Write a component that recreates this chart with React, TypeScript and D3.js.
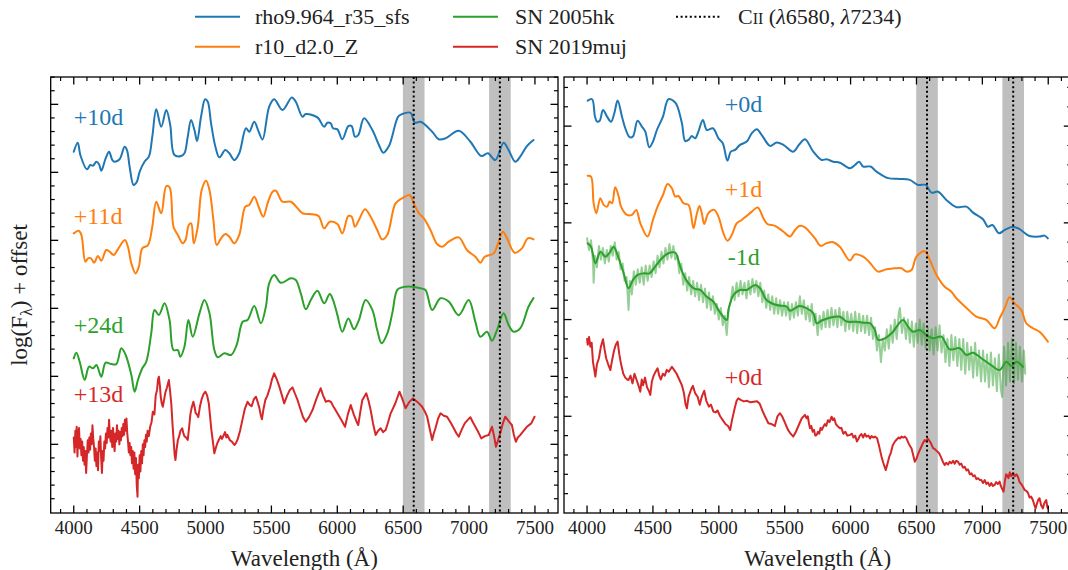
import React from 'react';
import * as d3 from 'd3';

type Pt = [number, number];

// ---------------- DATA (wavelength in Å, log flux + offset) ----------------
// Left panel: models vs. observations
const leftBlue: Pt[] = [[4000,2.151],[4030,2.218],[4050,2.127],[4100,2.022],[4126,2.054],[4146,2.049],[4172,2.078],[4192,2.059],[4209,2.012],[4242,2.103],[4268,2.151],[4293,2.090],[4310,2.078],[4348,2.096],[4386,2.188],[4404,2.164],[4424,2.041],[4454,1.907],[4479,1.931],[4500,2.004],[4537,2.078],[4570,2.115],[4596,2.262],[4626,2.463],[4664,2.335],[4702,2.458],[4732,2.348],[4764,2.127],[4815,2.120],[4840,2.140],[4865,2.262],[4890,2.385],[4916,2.311],[4936,2.230],[4966,2.409],[4997,2.537],[5017,2.519],[5042,2.360],[5075,2.188],[5105,2.110],[5150,2.164],[5181,2.140],[5219,2.090],[5256,2.140],[5307,2.324],[5332,2.299],[5370,2.372],[5403,2.299],[5433,2.241],[5483,2.482],[5521,2.537],[5584,2.458],[5655,2.551],[5685,2.519],[5736,2.409],[5761,2.429],[5849,2.404],[5900,2.335],[5925,2.365],[5950,2.360],[5968,2.324],[6001,2.316],[6038,2.243],[6084,2.340],[6109,2.340],[6134,2.262],[6159,2.274],[6203,2.397],[6266,2.311],[6316,2.201],[6349,2.144],[6392,2.193],[6462,2.409],[6492,2.429],[6556,2.438],[6589,2.365],[6632,2.372],[6720,2.299],[6770,2.243],[6821,2.250],[6922,2.306],[7010,2.225],[7093,2.120],[7143,2.140],[7199,2.090],[7262,2.218],[7300,2.164],[7351,2.078],[7388,2.115],[7439,2.193],[7489,2.238]];

const leftOrange: Pt[] = [[4000,1.551],[4038,1.571],[4058,1.539],[4088,1.343],[4108,1.368],[4131,1.368],[4154,1.335],[4184,1.385],[4209,1.350],[4247,1.429],[4273,1.416],[4303,1.392],[4336,1.436],[4388,1.502],[4411,1.453],[4437,1.331],[4469,1.257],[4494,1.306],[4520,1.441],[4563,1.465],[4596,1.600],[4626,1.784],[4664,1.699],[4702,1.899],[4727,1.890],[4757,1.600],[4790,1.539],[4827,1.478],[4848,1.502],[4873,1.613],[4891,1.625],[4911,1.478],[4941,1.600],[4971,1.870],[5004,1.938],[5030,1.870],[5060,1.649],[5085,1.465],[5118,1.515],[5150,1.546],[5181,1.526],[5219,1.478],[5256,1.539],[5302,1.747],[5332,1.760],[5370,1.821],[5403,1.747],[5438,1.673],[5471,1.772],[5509,1.857],[5534,1.865],[5584,1.784],[5648,1.784],[5736,1.699],[5786,1.693],[5857,1.679],[5900,1.588],[5943,1.637],[6001,1.620],[6038,1.551],[6084,1.679],[6109,1.674],[6134,1.600],[6164,1.649],[6210,1.728],[6253,1.674],[6303,1.576],[6341,1.507],[6379,1.539],[6442,1.772],[6492,1.809],[6548,1.833],[6581,1.772],[6619,1.699],[6657,1.662],[6707,1.576],[6757,1.473],[6796,1.453],[6846,1.490],[6922,1.522],[6984,1.429],[7048,1.379],[7086,1.335],[7119,1.379],[7187,1.404],[7220,1.478],[7257,1.563],[7288,1.515],[7346,1.409],[7401,1.441],[7446,1.515],[7489,1.507]];

const leftGreen: Pt[] = [[4000,0.632],[4020,0.674],[4045,0.607],[4083,0.473],[4116,0.571],[4146,0.559],[4172,0.583],[4209,0.497],[4242,0.600],[4285,0.590],[4323,0.590],[4361,0.706],[4394,0.657],[4437,0.510],[4462,0.387],[4487,0.473],[4520,0.559],[4550,0.607],[4588,0.816],[4613,0.988],[4646,0.951],[4689,1.037],[4727,0.914],[4757,0.693],[4790,0.693],[4808,0.644],[4840,0.718],[4870,0.914],[4903,0.791],[4954,0.963],[4992,1.061],[5030,0.963],[5067,0.693],[5092,0.640],[5143,0.669],[5194,0.657],[5236,0.730],[5282,0.901],[5319,0.914],[5370,1.017],[5420,0.890],[5458,1.012],[5483,1.184],[5521,1.245],[5572,1.188],[5648,1.221],[5685,1.208],[5723,1.110],[5761,0.993],[5799,1.061],[5849,1.129],[5900,1.037],[5943,1.105],[5968,1.061],[6001,0.950],[6038,0.828],[6084,0.926],[6127,0.846],[6164,0.914],[6215,1.061],[6266,0.988],[6303,0.840],[6336,0.743],[6379,0.814],[6417,0.963],[6455,1.135],[6492,1.154],[6568,1.159],[6632,1.147],[6669,1.135],[6720,0.988],[6783,1.074],[6846,1.049],[6922,0.950],[6997,1.061],[7048,0.900],[7086,0.791],[7136,0.828],[7174,0.762],[7212,0.840],[7262,0.963],[7300,0.877],[7338,0.828],[7388,0.853],[7451,1.012],[7489,1.075]];

const leftRed: Pt[] = [[4000,0.05],[4006,-0.06],[4012,0.10],[4018,-0.02],[4022,0.13],[4028,-0.09],[4034,0.08],[4040,0.12],[4046,-0.03],[4052,0.04],[4058,-0.08],[4064,0.02],[4070,-0.12],[4076,-0.02],[4082,-0.15],[4088,-0.05],[4094,-0.21],[4100,-0.08],[4106,0.03],[4112,-0.06],[4118,0.05],[4124,-0.04],[4130,0.08],[4136,0.00],[4142,0.14],[4148,0.04],[4154,-0.02],[4160,-0.12],[4166,-0.03],[4172,-0.16],[4178,-0.06],[4184,-0.19],[4190,0.02],[4196,-0.05],[4202,0.06],[4208,-0.10],[4214,-0.21],[4220,-0.05],[4226,-0.12],[4232,0.02],[4238,-0.03],[4244,0.08],[4250,0.01],[4256,0.12],[4262,0.05],[4268,0.18],[4274,0.07],[4280,0.02],[4286,0.10],[4292,-0.02],[4298,0.12],[4304,0.03],[4310,-0.05],[4316,0.08],[4322,0.02],[4328,0.14],[4334,0.04],[4340,0.10],[4346,0.00],[4352,0.09],[4358,0.03],[4364,0.12],[4370,0.06],[4376,0.15],[4382,0.07],[4388,0.18],[4394,0.10],[4400,0.19],[4406,0.08],[4412,0.02],[4418,-0.06],[4424,0.01],[4430,-0.08],[4436,-0.02],[4442,-0.14],[4448,-0.05],[4454,-0.18],[4460,-0.06],[4466,-0.22],[4472,-0.10],[4478,-0.30],[4484,-0.385],[4488,-0.15],[4494,-0.25],[4500,-0.08],[4506,-0.20],[4512,-0.05],[4518,-0.14],[4524,0.00],[4530,-0.08],[4536,0.03],[4542,-0.02],[4548,0.07],[4554,0.02],[4560,0.10],[4570,0.06],[4580,0.13],[4590,0.16],[4600,0.24],[4612,0.22],[4622,0.36],[4632,0.40],[4640,0.48],[4646,0.497],[4654,0.43],[4660,0.35],[4668,0.30],[4676,0.276],[4686,0.33],[4695,0.38],[4708,0.42],[4716,0.45],[4722,0.473],[4730,0.40],[4740,0.30],[4750,0.14],[4760,0.00],[4766,-0.08],[4772,-0.115],[4780,-0.04],[4790,0.03],[4800,0.06],[4810,0.10],[4823,0.118],[4832,0.08],[4840,0.06],[4852,0.05],[4865,0.032],[4875,0.12],[4885,0.22],[4895,0.27],[4908,0.313],[4916,0.28],[4925,0.23],[4935,0.22],[4945,0.20],[4958,0.28],[4970,0.33],[4985,0.37],[4999,0.387],[5012,0.36],[5025,0.300],[5035,0.20],[5045,0.10],[5056,0.02],[5067,-0.066],[5080,-0.02],[5090,0.01],[5100,0.03],[5115,0.06],[5125,0.04],[5135,0.061],[5148,0.09],[5158,0.05],[5165,0.07],[5175,0.05],[5185,0.03],[5200,0.02],[5219,-0.005],[5232,0.01],[5245,0.04],[5262,0.10],[5280,0.18],[5298,0.26],[5310,0.29],[5319,0.313],[5335,0.29],[5350,0.28],[5366,0.33],[5383,0.350],[5396,0.31],[5408,0.27],[5418,0.22],[5428,0.184],[5440,0.26],[5454,0.326],[5470,0.36],[5490,0.42],[5505,0.48],[5521,0.522],[5540,0.48],[5560,0.424],[5580,0.36],[5597,0.301],[5620,0.36],[5640,0.40],[5660,0.419],[5680,0.37],[5698,0.326],[5720,0.26],[5740,0.20],[5761,0.166],[5785,0.20],[5812,0.252],[5840,0.33],[5860,0.38],[5874,0.412],[5892,0.36],[5913,0.313],[5930,0.32],[5951,0.313],[5975,0.27],[6001,0.228],[6030,0.18],[6059,0.129],[6080,0.22],[6102,0.289],[6115,0.25],[6127,0.215],[6145,0.17],[6159,0.142],[6175,0.24],[6190,0.326],[6205,0.35],[6220,0.375],[6237,0.32],[6253,0.252],[6272,0.15],[6291,0.068],[6310,0.10],[6329,0.118],[6348,0.09],[6367,0.105],[6385,0.16],[6405,0.228],[6440,0.30],[6472,0.387],[6495,0.33],[6518,0.265],[6545,0.31],[6574,0.338],[6610,0.31],[6644,0.276],[6665,0.24],[6682,0.203],[6700,0.12],[6720,0.032],[6732,0.08],[6745,0.118],[6765,0.19],[6783,0.228],[6808,0.21],[6833,0.203],[6860,0.16],[6884,0.118],[6905,0.08],[6922,0.056],[6945,0.11],[6967,0.154],[6990,0.18],[7010,0.199],[7030,0.16],[7048,0.129],[7070,0.09],[7093,0.044],[7120,0.06],[7149,0.068],[7162,0.10],[7174,0.129],[7190,0.06],[7204,-0.018],[7220,0.03],[7237,0.081],[7255,0.15],[7275,0.203],[7300,0.17],[7325,0.142],[7340,0.07],[7355,0.019],[7370,0.05],[7388,0.068],[7415,0.10],[7439,0.129],[7472,0.154],[7497,0.203]];

// Right panel
const rightBlue: Pt[] = [[4005,2.132],[4038,2.139],[4060,2.05],[4076,2.023],[4096,2.028],[4121,2.084],[4152,2.049],[4182,2.023],[4207,2.067],[4232,2.132],[4265,2.049],[4290,1.989],[4323,1.943],[4348,1.946],[4383,2.028],[4417,1.997],[4442,1.972],[4472,1.891],[4500,1.920],[4530,1.980],[4576,2.049],[4618,2.139],[4669,2.122],[4686,2.101],[4720,2.015],[4745,1.923],[4770,1.929],[4795,1.949],[4820,1.937],[4845,1.972],[4879,2.032],[4909,1.980],[4955,1.989],[4997,1.937],[5030,1.912],[5065,1.822],[5091,1.868],[5123,1.877],[5161,1.903],[5212,1.920],[5250,1.963],[5288,1.984],[5326,1.954],[5389,1.898],[5439,1.915],[5490,1.903],[5565,1.868],[5610,1.905],[5654,1.932],[5717,1.868],[5780,1.825],[5818,1.829],[5868,1.816],[5919,1.811],[5995,1.782],[6033,1.799],[6065,1.816],[6096,1.791],[6151,1.791],[6197,1.765],[6285,1.731],[6373,1.727],[6449,1.722],[6512,1.696],[6570,1.696],[6614,1.656],[6664,1.661],[6727,1.618],[6803,1.581],[6879,1.584],[6929,1.553],[7005,1.519],[7042,1.480],[7076,1.489],[7126,1.446],[7169,1.463],[7232,1.480],[7283,1.467],[7358,1.432],[7434,1.429],[7472,1.434],[7497,1.420]];

const rightOrange: Pt[] = [[4005,1.743],[4030,1.739],[4050,1.601],[4070,1.550],[4101,1.627],[4126,1.593],[4152,1.584],[4171,1.610],[4189,1.601],[4214,1.684],[4240,1.636],[4258,1.584],[4303,1.541],[4341,1.541],[4373,1.567],[4404,1.498],[4459,1.429],[4500,1.515],[4535,1.584],[4576,1.644],[4611,1.701],[4644,1.679],[4669,1.636],[4694,1.639],[4732,1.601],[4770,1.593],[4808,1.472],[4828,1.532],[4853,1.587],[4871,1.550],[4889,1.494],[4921,1.550],[4965,1.567],[4997,1.532],[5035,1.446],[5065,1.408],[5098,1.437],[5136,1.498],[5174,1.515],[5212,1.536],[5250,1.558],[5295,1.579],[5338,1.524],[5368,1.494],[5427,1.484],[5489,1.455],[5540,1.429],[5578,1.463],[5611,1.484],[5654,1.477],[5686,1.455],[5730,1.420],[5773,1.381],[5818,1.395],[5868,1.400],[5920,1.375],[5995,1.305],[6033,1.337],[6096,1.325],[6146,1.294],[6209,1.248],[6273,1.260],[6336,1.265],[6386,1.265],[6424,1.248],[6462,1.256],[6500,1.325],[6563,1.353],[6601,1.308],[6652,1.231],[6714,1.170],[6765,1.144],[6803,1.110],[6874,1.064],[6955,1.015],[7030,0.998],[7093,0.955],[7131,1.007],[7169,1.058],[7207,1.115],[7245,1.084],[7295,1.050],[7333,0.981],[7383,0.955],[7434,0.937],[7497,0.886]];

const rightGreenSmooth: Pt[] = [[4005,1.394],[4030,1.377],[4063,1.291],[4101,1.351],[4139,1.325],[4171,1.346],[4202,1.377],[4240,1.317],[4278,1.239],[4315,1.162],[4348,1.205],[4383,1.231],[4429,1.239],[4474,1.239],[4517,1.274],[4568,1.317],[4618,1.343],[4669,1.346],[4707,1.274],[4752,1.205],[4808,1.162],[4859,1.153],[4909,1.118],[4959,1.093],[4997,1.050],[5043,1.007],[5061,0.998],[5073,1.050],[5111,1.127],[5161,1.153],[5212,1.153],[5275,1.179],[5313,1.162],[5364,1.100],[5439,1.075],[5515,1.067],[5540,1.046],[5611,1.070],[5667,1.058],[5717,1.033],[5742,0.981],[5780,0.995],[5830,1.007],[5919,1.015],[5970,0.990],[6045,0.989],[6096,0.984],[6146,0.981],[6184,0.946],[6209,0.895],[6260,0.903],[6311,0.929],[6398,0.998],[6436,0.963],[6474,0.937],[6525,0.946],[6576,0.920],[6626,0.903],[6689,0.912],[6752,0.846],[6828,0.852],[6879,0.817],[6929,0.829],[6992,0.800],[7055,0.770],[7131,0.739],[7182,0.782],[7220,0.760],[7258,0.782],[7308,0.756]];

const rightGreenRaw: Pt[] = [[4000,1.42],[4015,1.36],[4030,1.41],[4045,1.30],[4050,1.19],[4060,1.33],[4075,1.27],[4090,1.38],[4105,1.31],[4120,1.37],[4135,1.29],[4150,1.36],[4165,1.30],[4180,1.38],[4195,1.33],[4210,1.40],[4225,1.31],[4240,1.35],[4255,1.26],[4270,1.29],[4285,1.20],[4300,1.22],[4315,1.05],[4325,1.20],[4340,1.13],[4355,1.25],[4370,1.18],[4385,1.26],[4400,1.19],[4415,1.27],[4430,1.18],[4445,1.28],[4460,1.20],[4475,1.28],[4490,1.22],[4505,1.30],[4520,1.24],[4535,1.33],[4550,1.27],[4565,1.35],[4580,1.29],[4595,1.37],[4610,1.31],[4625,1.39],[4640,1.32],[4655,1.38],[4670,1.31],[4685,1.33],[4700,1.24],[4715,1.29],[4730,1.18],[4745,1.24],[4760,1.15],[4775,1.22],[4790,1.13],[4805,1.20],[4820,1.12],[4835,1.19],[4850,1.10],[4865,1.18],[4880,1.09],[4895,1.16],[4910,1.06],[4925,1.14],[4940,1.05],[4955,1.12],[4970,1.03],[4985,1.08],[5000,1.00],[5015,1.06],[5030,0.97],[5045,1.02],[5060,0.92],[5075,1.06],[5090,1.09],[5105,1.17],[5120,1.10],[5135,1.19],[5150,1.12],[5165,1.20],[5180,1.13],[5195,1.19],[5210,1.11],[5225,1.20],[5240,1.13],[5255,1.21],[5270,1.14],[5285,1.20],[5300,1.12],[5315,1.19],[5330,1.09],[5345,1.15],[5360,1.06],[5375,1.13],[5390,1.05],[5405,1.12],[5420,1.03],[5435,1.11],[5450,1.03],[5465,1.10],[5480,1.02],[5495,1.09],[5510,1.02],[5525,1.09],[5540,1.00],[5555,1.08],[5570,1.01],[5585,1.09],[5600,1.02],[5615,1.12],[5630,1.03],[5645,1.10],[5660,1.00],[5675,1.07],[5690,0.99],[5705,1.08],[5720,0.97],[5735,1.03],[5750,0.92],[5765,1.02],[5780,0.95],[5795,1.04],[5810,0.96],[5825,1.05],[5840,0.96],[5855,1.06],[5870,0.97],[5885,1.05],[5900,0.96],[5915,1.06],[5930,0.97],[5945,1.04],[5960,0.94],[5975,1.04],[5990,0.95],[6005,1.03],[6020,0.94],[6035,1.04],[6050,0.93],[6065,1.03],[6080,0.94],[6095,1.02],[6110,0.93],[6125,1.02],[6140,0.92],[6155,1.01],[6170,0.90],[6185,0.96],[6200,0.84],[6215,0.92],[6230,0.78],[6245,0.90],[6260,0.84],[6275,0.95],[6290,0.85],[6305,0.97],[6320,0.88],[6335,1.00],[6350,0.90],[6365,1.03],[6374,1.06],[6390,0.93],[6405,1.01],[6420,0.90],[6435,1.00],[6450,0.88],[6465,0.99],[6480,0.86],[6495,0.98],[6510,0.88],[6525,1.00],[6540,0.87],[6555,0.98],[6570,0.85],[6585,0.96],[6600,0.84],[6615,0.95],[6630,0.82],[6645,0.96],[6660,0.84],[6675,0.97],[6690,0.83],[6705,0.92],[6720,0.78],[6735,0.90],[6750,0.76],[6765,0.92],[6780,0.79],[6795,0.91],[6810,0.76],[6825,0.90],[6840,0.74],[6855,0.90],[6870,0.72],[6885,0.88],[6900,0.74],[6915,0.86],[6930,0.70],[6945,0.88],[6960,0.71],[6975,0.84],[6990,0.68],[7005,0.84],[7020,0.68],[7035,0.82],[7050,0.65],[7065,0.83],[7080,0.66],[7095,0.80],[7110,0.63],[7125,0.82],[7140,0.64],[7150,0.60],[7165,0.86],[7180,0.66],[7195,0.88],[7210,0.68],[7225,0.90],[7240,0.67],[7255,0.88],[7270,0.69],[7285,0.86],[7300,0.68],[7315,0.84],[7325,0.72]];

const rightRed: Pt[] = [[4000,0.90],[4005,0.870],[4015,0.91],[4025,0.86],[4035,0.88],[4045,0.78],[4055,0.74],[4063,0.705],[4075,0.77],[4090,0.80],[4105,0.86],[4121,0.898],[4132,0.85],[4145,0.80],[4160,0.77],[4177,0.739],[4190,0.79],[4205,0.84],[4218,0.87],[4232,0.886],[4245,0.82],[4258,0.77],[4275,0.72],[4290,0.70],[4305,0.69],[4315,0.688],[4330,0.71],[4345,0.67],[4360,0.72],[4375,0.69],[4390,0.66],[4404,0.627],[4415,0.69],[4425,0.66],[4440,0.70],[4455,0.65],[4470,0.63],[4480,0.610],[4492,0.68],[4505,0.71],[4520,0.73],[4535,0.748],[4548,0.71],[4560,0.69],[4575,0.72],[4590,0.71],[4605,0.74],[4620,0.73],[4644,0.756],[4660,0.74],[4680,0.72],[4700,0.69],[4720,0.66],[4735,0.62],[4748,0.56],[4758,0.541],[4770,0.60],[4790,0.64],[4803,0.657],[4820,0.62],[4840,0.60],[4855,0.56],[4870,0.60],[4889,0.632],[4905,0.58],[4925,0.55],[4940,0.56],[4959,0.524],[4975,0.52],[4990,0.53],[5010,0.50],[5030,0.48],[5050,0.46],[5070,0.45],[5086,0.429],[5100,0.48],[5120,0.54],[5135,0.58],[5148,0.593],[5165,0.585],[5190,0.577],[5215,0.580],[5240,0.572],[5265,0.575],[5290,0.578],[5310,0.565],[5330,0.53],[5350,0.50],[5376,0.464],[5400,0.46],[5425,0.45],[5445,0.50],[5464,0.516],[5480,0.50],[5500,0.47],[5525,0.43],[5545,0.41],[5565,0.395],[5585,0.42],[5610,0.46],[5630,0.49],[5654,0.507],[5665,0.49],[5675,0.50],[5685,0.46],[5692,0.438],[5702,0.45],[5712,0.42],[5722,0.43],[5732,0.40],[5742,0.403],[5752,0.42],[5762,0.41],[5772,0.44],[5782,0.43],[5793,0.446],[5805,0.46],[5815,0.45],[5828,0.48],[5840,0.47],[5856,0.498],[5866,0.48],[5876,0.49],[5888,0.46],[5900,0.45],[5919,0.438],[5930,0.44],[5945,0.41],[5960,0.42],[5975,0.40],[5995,0.403],[6010,0.41],[6022,0.39],[6035,0.40],[6048,0.37],[6058,0.381],[6070,0.40],[6083,0.408],[6095,0.39],[6108,0.41],[6120,0.395],[6135,0.40],[6148,0.385],[6159,0.398],[6172,0.39],[6185,0.395],[6201,0.386],[6215,0.35],[6225,0.32],[6235,0.291],[6248,0.26],[6258,0.24],[6267,0.222],[6278,0.25],[6293,0.290],[6305,0.31],[6320,0.35],[6336,0.369],[6350,0.38],[6365,0.39],[6375,0.385],[6386,0.395],[6400,0.39],[6412,0.395],[6424,0.386],[6440,0.36],[6452,0.345],[6462,0.335],[6475,0.30],[6487,0.265],[6500,0.28],[6510,0.30],[6520,0.317],[6535,0.34],[6548,0.36],[6563,0.377],[6575,0.37],[6585,0.385],[6595,0.377],[6610,0.36],[6626,0.335],[6640,0.33],[6655,0.32],[6672,0.309],[6685,0.29],[6700,0.265],[6714,0.248],[6726,0.26],[6740,0.25],[6752,0.265],[6765,0.257],[6778,0.27],[6790,0.255],[6802,0.27],[6815,0.265],[6828,0.25],[6840,0.255],[6853,0.235],[6866,0.239],[6880,0.22],[6892,0.225],[6905,0.20],[6917,0.205],[6930,0.19],[6942,0.195],[6955,0.175],[6967,0.18],[6980,0.171],[6992,0.17],[7005,0.155],[7018,0.17],[7030,0.15],[7043,0.157],[7055,0.14],[7068,0.155],[7080,0.14],[7093,0.145],[7105,0.16],[7118,0.15],[7131,0.162],[7140,0.14],[7150,0.125],[7161,0.110],[7170,0.16],[7180,0.20],[7187,0.196],[7198,0.18],[7208,0.21],[7220,0.19],[7232,0.205],[7245,0.19],[7258,0.20],[7270,0.188],[7282,0.16],[7295,0.15],[7308,0.136],[7320,0.12],[7333,0.115],[7346,0.105],[7358,0.08],[7370,0.085],[7383,0.067],[7393,0.045],[7404,0.024],[7415,0.05],[7425,0.07],[7434,0.076],[7446,0.04],[7459,0.024],[7470,0.05],[7485,0.067],[7492,0.035],[7497,0.024]];

// C II reference lines (Å) and shaded half-width (Å)
const ciiLines = [6580, 7234];
const ciiHalfWidth = 82;

// Axis ticks
const xMajorTicks = [4000, 4500, 5000, 5500, 6000, 6500, 7000, 7500];
const xMinorTicks = d3.range(3900, 7601, 100);
const leftYMajor = [0, 0.5, 1.0, 1.5, 2.0, 2.5];
const leftYMinor = d3.range(-0.4, 2.71, 0.1);
const rightYMajor = [0.5, 1.0, 1.5, 2.0];
const rightYMinor = d3.range(0.1, 2.21, 0.1);

// Legend entries
const legendNames = ['rho9.964_r35_sfs', 'r10_d2.0_Z', 'SN 2005hk', 'SN 2019muj'];

// Phase labels
const leftLabels = [
  { text: '+10d', color: '#1f77b4', wave: 4000, y: 2.348 },
  { text: '+11d', color: '#ff7f0e', wave: 4000, y: 1.620 },
  { text: '+24d', color: '#2ca02c', wave: 4000, y: 0.816 },
  { text: '+13d', color: '#d62728', wave: 4000, y: 0.313 },
];
const rightLabels = [
  { text: '+0d', color: '#1f77b4', wave: 5045, y: 2.075 },
  { text: '+1d', color: '#ff7f0e', wave: 5045, y: 1.635 },
  { text: '-1d', color: '#2ca02c', wave: 5068, y: 1.282 },
  { text: '+0d', color: '#d62728', wave: 5045, y: 0.662 },
];

const C = { blue: '#1f77b4', orange: '#ff7f0e', green: '#2ca02c', red: '#d62728' };
const FONT = 'Liberation Serif, DejaVu Serif, serif';

const TOP = 77;
const BOTTOM = 513;

type Series = { data: Pt[]; color: string; width: number; opacity?: number; smooth: boolean };

function Panel(props: {
  id: string;
  x0: number; x1: number;
  yDomain: [number, number];
  yMajor: number[]; yMinor: number[];
  series: Series[];
  labels: { text: string; color: string; wave: number; y: number }[];
}) {
  const { id, x0, x1, yDomain, yMajor, yMinor, series, labels } = props;
  const x = d3.scaleLinear().domain([3825, 7675]).range([x0, x1]);
  const y = d3.scaleLinear().domain(yDomain).range([BOTTOM, TOP]);
  const majorLen = 7.5, minorLen = 4;
  const lineSmooth = d3.line<Pt>().x(d => x(d[0])).y(d => y(d[1])).curve(d3.curveCatmullRom.alpha(0.5));
  const lineRaw = d3.line<Pt>().x(d => x(d[0])).y(d => y(d[1]));
  const isMajorX = (v: number) => xMajorTicks.some(m => Math.abs(m - v) < 1e-6);
  const isMajorY = (v: number) => yMajor.concat([0]).some(m => Math.abs(m - v) < 1e-6);
  return (
    <g>
      <defs>
        <clipPath id={`clip-${id}`}>
          <rect x={x0} y={TOP} width={x1 - x0} height={BOTTOM - TOP} />
        </clipPath>
      </defs>
      <g clipPath={`url(#clip-${id})`}>
        {ciiLines.map(c => (
          <rect key={`b${c}`} x={x(c - ciiHalfWidth)} y={TOP} width={x(c + ciiHalfWidth) - x(c - ciiHalfWidth)} height={BOTTOM - TOP} fill="#bfbfbf" />
        ))}
        {series.map((s, i) => (
          <path key={i} d={(s.smooth ? lineSmooth : lineRaw)(s.data) || ''} fill="none" stroke={s.color}
            strokeWidth={s.width} strokeOpacity={s.opacity ?? 1} strokeLinejoin="round" strokeLinecap="round" />
        ))}
        {ciiLines.map(c => (
          <line key={`d${c}`} x1={x(c)} x2={x(c)} y1={TOP} y2={BOTTOM} stroke="#000" strokeWidth={2} strokeDasharray="2,2.6" />
        ))}
      </g>
      {labels.map((l, i) => (
        <text key={i} x={x(l.wave)} y={y(l.y)} fill={l.color} fontFamily={FONT} fontSize={24}>{l.text}</text>
      ))}
      {xMinorTicks.filter(v => !isMajorX(v)).map(v => (
        <g key={`xm${v}`}>
          <line x1={x(v)} x2={x(v)} y1={BOTTOM} y2={BOTTOM - minorLen} stroke="#000" strokeWidth={1.2} />
          <line x1={x(v)} x2={x(v)} y1={TOP} y2={TOP + minorLen} stroke="#000" strokeWidth={1.2} />
        </g>
      ))}
      {xMajorTicks.map(v => (
        <g key={`xM${v}`}>
          <line x1={x(v)} x2={x(v)} y1={BOTTOM} y2={BOTTOM - majorLen} stroke="#000" strokeWidth={1.3} />
          <line x1={x(v)} x2={x(v)} y1={TOP} y2={TOP + majorLen} stroke="#000" strokeWidth={1.3} />
          <text x={x(v)} y={533.5} textAnchor="middle" fontFamily={FONT} fontSize={19} fill="#222">{v}</text>
        </g>
      ))}
      {yMinor.filter(v => !isMajorY(v)).map(v => (
        <g key={`ym${v.toFixed(2)}`}>
          <line x1={x0} x2={x0 + minorLen} y1={y(v)} y2={y(v)} stroke="#000" strokeWidth={1.2} />
          <line x1={x1} x2={x1 - minorLen} y1={y(v)} y2={y(v)} stroke="#000" strokeWidth={1.2} />
        </g>
      ))}
      {yMajor.map(v => (
        <g key={`yM${v}`}>
          <line x1={x0} x2={x0 + majorLen} y1={y(v)} y2={y(v)} stroke="#000" strokeWidth={1.3} />
          <line x1={x1} x2={x1 - majorLen} y1={y(v)} y2={y(v)} stroke="#000" strokeWidth={1.3} />
        </g>
      ))}
      <rect x={x0} y={TOP} width={x1 - x0} height={BOTTOM - TOP} fill="none" stroke="#000" strokeWidth={1.3} />
      <text x={(x0 + x1) / 2} y={566} textAnchor="middle" fontFamily={FONT} fontSize={23} fill="#222">Wavelength (Å)</text>
    </g>
  );
}

function Legend() {
  const colors = [C.blue, C.orange, C.green, C.red];
  const cols = [{ lx: 195, tx: 255 }, { lx: 453, tx: 515 }];
  const rows = [16.7, 46.7];
  return (
    <g fontFamily={FONT} fontSize={22} fill="#222">
      {legendNames.map((name, i) => {
        const col = cols[Math.floor(i / 2)];
        const ry = rows[i % 2];
        return (
          <g key={name}>
            <line x1={col.lx} x2={col.lx + 45} y1={ry} y2={ry} stroke={colors[i]} strokeWidth={2} />
            <text x={col.tx} y={ry + 7.5}>{name}</text>
          </g>
        );
      })}
      <line x1={676} x2={720} y1={rows[0]} y2={rows[0]} stroke="#000" strokeWidth={2} strokeDasharray="2,2.6" />
      <text x={738} y={rows[0] + 7.5}>
        <tspan>C</tspan><tspan fontSize={16}>II</tspan><tspan> (</tspan><tspan fontStyle="italic">λ</tspan><tspan>6580, </tspan><tspan fontStyle="italic">λ</tspan><tspan>7234)</tspan>
      </text>
    </g>
  );
}

export default function App() {
  return (
    <svg width={1068} height={570} style={{ position: 'absolute', left: 0, top: 0, background: '#fff' }}>
      <rect x={0} y={0} width={1068} height={570} fill="#fff" />
      <Legend />
      <Panel id="L" x0={50.7} x1={558} yDomain={[-0.505, 2.701]} yMajor={leftYMajor} yMinor={leftYMinor}
        series={[
          { data: leftBlue, color: C.blue, width: 2, smooth: true },
          { data: leftOrange, color: C.orange, width: 2, smooth: true },
          { data: leftGreen, color: C.green, width: 2, smooth: true },
          { data: leftRed, color: C.red, width: 2, smooth: false },
        ]}
        labels={leftLabels} />
      <Panel id="R" x0={564} x1={1071.3} yDomain={[0, 2.254]} yMajor={rightYMajor} yMinor={rightYMinor}
        series={[
          { data: rightBlue, color: C.blue, width: 2, smooth: true },
          { data: rightOrange, color: C.orange, width: 2, smooth: true },
          { data: rightGreenRaw, color: C.green, width: 2, opacity: 0.5, smooth: false },
          { data: rightGreenSmooth, color: C.green, width: 2, smooth: true },
          { data: rightRed, color: C.red, width: 2, smooth: false },
        ]}
        labels={rightLabels} />
      <text transform="translate(27,295) rotate(-90)" textAnchor="middle" fontFamily={FONT} fontSize={23} fill="#222">
        <tspan>log(F</tspan><tspan fontSize={16} dy={5}>λ</tspan><tspan dy={-5}>) + offset</tspan>
      </text>
    </svg>
  );
}
